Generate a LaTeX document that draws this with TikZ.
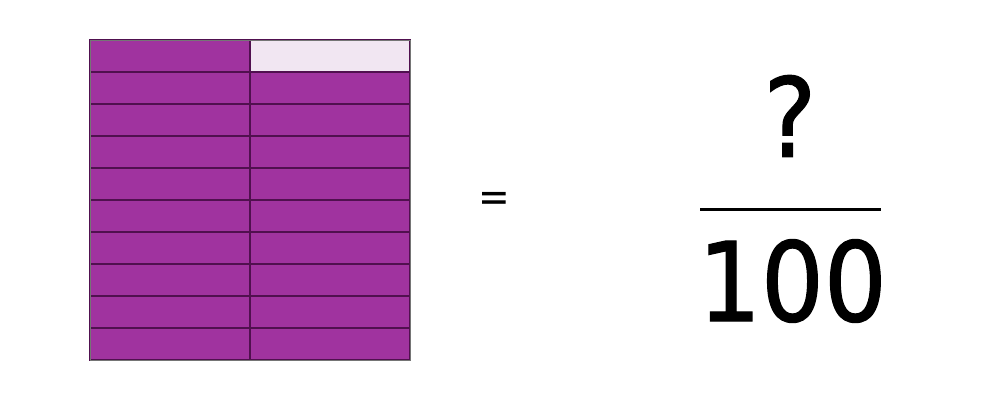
\documentclass[tikz,border=0pt]{standalone}
\usepackage{fontspec}
\setmainfont{DejaVu Sans Condensed}
\newfontfamily\heavyfont[FakeBold=1.1]{DejaVu Sans Condensed}
\definecolor{cellpurple}{HTML}{A0339F}
\definecolor{celllight}{HTML}{F1E6F2}
\definecolor{gridline}{HTML}{50104F}
\definecolor{outline}{HTML}{757575}
\begin{document}
\begin{tikzpicture}[x=1pt,y=-1pt,
  cell/.style={draw=gridline,line width=1.3pt,fill=cellpurple,minimum width=160pt,minimum height=32pt,inner sep=0pt,outer sep=0pt},
  lightcell/.style={cell,fill=celllight},
  bigtext/.style={inner sep=0pt,font=\heavyfont\fontsize{110}{120}\selectfont}]
\useasboundingbox (0,0) rectangle (1000,400);
\fill[white] (0,0) rectangle (1000,400);
\foreach \r in {0,...,9}{
  \node[cell,anchor=north west] (L\r) at (90,{40+32*\r}) {};
  \ifnum\r=0
    \node[lightcell,anchor=north west] (R\r) at (250,{40+32*\r}) {};
  \else
    \node[cell,anchor=north west] (R\r) at (250,{40+32*\r}) {};
  \fi
}
\draw[outline,line width=1pt] (L0.north west) rectangle (R9.south east);
\node[inner sep=0pt,font=\fontsize{42}{48}\selectfont] (eq) at (494.5,201.5) {=};
\node[bigtext] (num) at (790,116) {?};
\node[bigtext] (den) at (792.5,281) {100};
\coordinate (barL) at (700,209);
\coordinate (barR) at (881,209);
\draw[line width=3pt] (barL) -- (barR);
\end{tikzpicture}
\end{document}
